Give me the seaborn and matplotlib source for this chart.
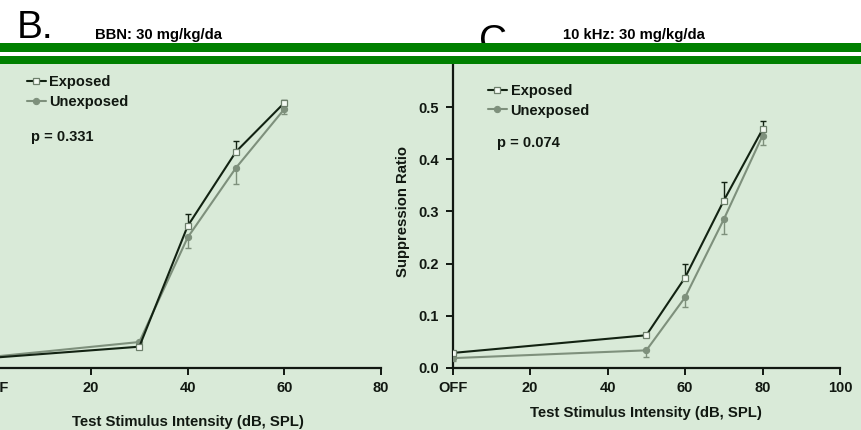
import matplotlib
matplotlib.use("Agg")
import matplotlib.pyplot as plt
from matplotlib.patches import Rectangle
import numpy as np
import pandas as pd
import seaborn as sns

# Panel B: broadband noise test stimulus
bbn_levels = [0, 30, 40, 50, 60]
bbn_exposed = [0.019, 0.040, 0.272, 0.415, 0.509]
bbn_exposed_sem = [0.004, 0.004, 0.023, 0.020, 0.005]
bbn_unexposed = [0.021, 0.049, 0.250, 0.384, 0.497]
bbn_unexposed_sem = [0.004, 0.004, 0.021, 0.032, 0.009]
bbn_p = "p = 0.331"

# Panel C: 10 kHz tone test stimulus
khz_levels = [0, 50, 60, 70, 80]
khz_exposed = [0.028, 0.062, 0.173, 0.321, 0.458]
khz_exposed_sem = [0.004, 0.003, 0.026, 0.035, 0.016]
khz_unexposed = [0.018, 0.033, 0.135, 0.285, 0.446]
khz_unexposed_sem = [0.006, 0.012, 0.019, 0.028, 0.018]
khz_p = "p = 0.074"

groups = ["Exposed", "Unexposed"]
bbn_ticks = [0, 20, 40, 60, 80]
bbn_ticklabels = ["OFF", "20", "40", "60", "80"]
khz_ticks = [0, 20, 40, 60, 80, 100]
khz_ticklabels = ["OFF", "20", "40", "60", "80", "100"]
y_ticks = [0.0, 0.1, 0.2, 0.3, 0.4, 0.5]

BG = "#d9ead8"
BAR = "#008000"
C_EXP = "#122212"
C_UNEXP = "#7e907c"
TXT = "#111811"

sns.set_theme(style="ticks")
plt.rcParams["font.family"] = ["Liberation Sans", "DejaVu Sans"]
plt.rcParams["font.weight"] = "bold"

W, H = 862, 430
fig = plt.figure(figsize=(W / 100, H / 100), dpi=100, facecolor=BG)


def px_axes(x0, x1, y0, y1):
    """Axes rectangle from pixel edges (y measured from the top)."""
    return fig.add_axes([x0 / W, 1 - y0 / H, (x1 - x0) / W, (y0 - y1) / H])


YMAX = 0.59
ax_b = px_axes(-5.7, 381.0, 367.5, 367.5 - YMAX * 520)
ax_c = px_axes(452.7, 840.0, 367.5, 367.5 - YMAX * 520)


def frame(levels, exp, exp_err, unexp, unexp_err):
    n = len(levels)
    return pd.DataFrame({
        "level": list(levels) * 2,
        "ratio": list(exp) + list(unexp),
        "err": list(exp_err) + list(unexp_err),
        "group": [groups[0]] * n + [groups[1]] * n,
    })


def draw_panel(ax, df, xmax, ticks, ticklabels, ptext, leg_xy, p_xy):
    ax.set_facecolor(BG)
    exp = df[df["group"] == "Exposed"]
    unexp = df[df["group"] == "Unexposed"]
    zeros = np.zeros(len(exp))
    # one-sided error bars: up for exposed, down for unexposed
    ax.errorbar(unexp["level"], unexp["ratio"],
                yerr=np.vstack([unexp["err"].to_numpy(), zeros]),
                fmt="none", ecolor=C_UNEXP, elinewidth=1.0, capsize=2.5,
                capthick=1.0, zorder=2)
    ax.errorbar(exp["level"], exp["ratio"],
                yerr=np.vstack([zeros, exp["err"].to_numpy()]),
                fmt="none", ecolor=C_EXP, elinewidth=1.0, capsize=2.5,
                capthick=1.0, zorder=2)
    sns.lineplot(data=unexp, x="level", y="ratio", ax=ax, color=C_UNEXP,
                 marker="o", markersize=4.5, markerfacecolor=C_UNEXP,
                 markeredgecolor=C_UNEXP, linewidth=1.5, label="Unexposed",
                 zorder=3)
    sns.lineplot(data=exp, x="level", y="ratio", ax=ax, color=C_EXP,
                 marker="s", markersize=4.8, markerfacecolor="#f4faf3",
                 markeredgecolor="#6d7f6b", markeredgewidth=0.9,
                 linewidth=1.5, label="Exposed", zorder=4)
    ax.set_xlim(0, xmax)
    ax.set_ylim(0, YMAX)
    ax.set_xticks(ticks)
    ax.set_xticklabels(ticklabels)
    ax.set_yticks(y_ticks)
    ax.set_yticklabels([f"{v:.1f}" for v in y_ticks])
    for s in ["top", "right"]:
        ax.spines[s].set_visible(False)
    for s in ["left", "bottom"]:
        ax.spines[s].set_linewidth(1.6)
        ax.spines[s].set_color(TXT)
    ax.tick_params(axis="both", direction="out", length=5, width=1.4,
                   color=TXT, labelsize=10.5, labelcolor=TXT, pad=5)
    for lab in ax.get_xticklabels() + ax.get_yticklabels():
        lab.set_fontweight("bold")
    handles, labels = ax.get_legend_handles_labels()
    order = [labels.index("Exposed"), labels.index("Unexposed")]
    ax.legend([handles[i] for i in order], [labels[i] for i in order],
              loc="upper left", bbox_to_anchor=leg_xy, frameon=False,
              borderpad=0, borderaxespad=0, handlelength=1.3,
              handletextpad=0.25, labelspacing=0.4,
              prop={"weight": "bold", "size": 10.5}, labelcolor=TXT)
    ax.text(p_xy[0], p_xy[1], ptext, transform=ax.transAxes, ha="left",
            va="center", fontsize=10.5, fontweight="bold", color=TXT)


df_b = frame(bbn_levels, bbn_exposed, bbn_exposed_sem, bbn_unexposed, bbn_unexposed_sem)
df_c = frame(khz_levels, khz_exposed, khz_exposed_sem, khz_unexposed, khz_unexposed_sem)

draw_panel(ax_b, df_b, 80, bbn_ticks, bbn_ticklabels, bbn_p,
           (0.084, 0.952), (0.095, 0.751))
draw_panel(ax_c, df_c, 100, khz_ticks, khz_ticklabels, khz_p,
           (0.091, 0.925), (0.114, 0.733))

# panel B's y axis sits just past the left edge; its labels are not shown
ax_b.tick_params(axis="y", left=False, labelleft=False)

for ax, ylab in [(ax_b, -0.155), (ax_c, -0.125)]:
    ax.set_xlabel("Test Stimulus Intensity (dB, SPL)", fontsize=10.7,
                  fontweight="bold", color=TXT)
    ax.xaxis.set_label_coords(0.5, ylab)
ax_b.set_ylabel("")
ax_c.set_ylabel("Suppression Ratio", fontsize=10.7, fontweight="bold", color=TXT)
ax_c.yaxis.set_label_coords(-0.129, 0.508)
ax_c.yaxis.label.set_verticalalignment("center")

# white header strip and the green rules across the top
fig.add_artist(Rectangle((0, 1 - 43.3 / H), 1, 43.3 / H, transform=fig.transFigure,
                         facecolor="white", edgecolor="none", zorder=1))
fig.add_artist(Rectangle((0, 1 - 51.7 / H), 1, 8.4 / H, transform=fig.transFigure,
                         facecolor=BAR, edgecolor="none", zorder=5))
fig.add_artist(Rectangle((0, 1 - 56.0 / H), 1, 4.3 / H, transform=fig.transFigure,
                         facecolor="white", edgecolor="none", zorder=5))
fig.add_artist(Rectangle((0, 1 - 64.0 / H), 1, 8.0 / H, transform=fig.transFigure,
                         facecolor=BAR, edgecolor="none", zorder=5))

fig.text(17 / W, 1 - 38 / H, "B.", fontsize=28, fontweight="normal",
         color="black", ha="left", va="baseline", zorder=3)
fig.text(95 / W, 1 - 39.5 / H, "BBN: 30 mg/kg/da", fontsize=10.7,
         fontweight="bold", color="black", ha="left", va="baseline", zorder=3)
fig.text(479 / W, 1 - 52 / H, "C.", fontsize=28, fontweight="normal",
         color="black", ha="left", va="baseline", zorder=3)
fig.text(563 / W, 1 - 39.5 / H, "10 kHz: 30 mg/kg/da", fontsize=10.7,
         fontweight="bold", color="black", ha="left", va="baseline", zorder=3)

fig.savefig("out.png", dpi=100, facecolor=BG)
